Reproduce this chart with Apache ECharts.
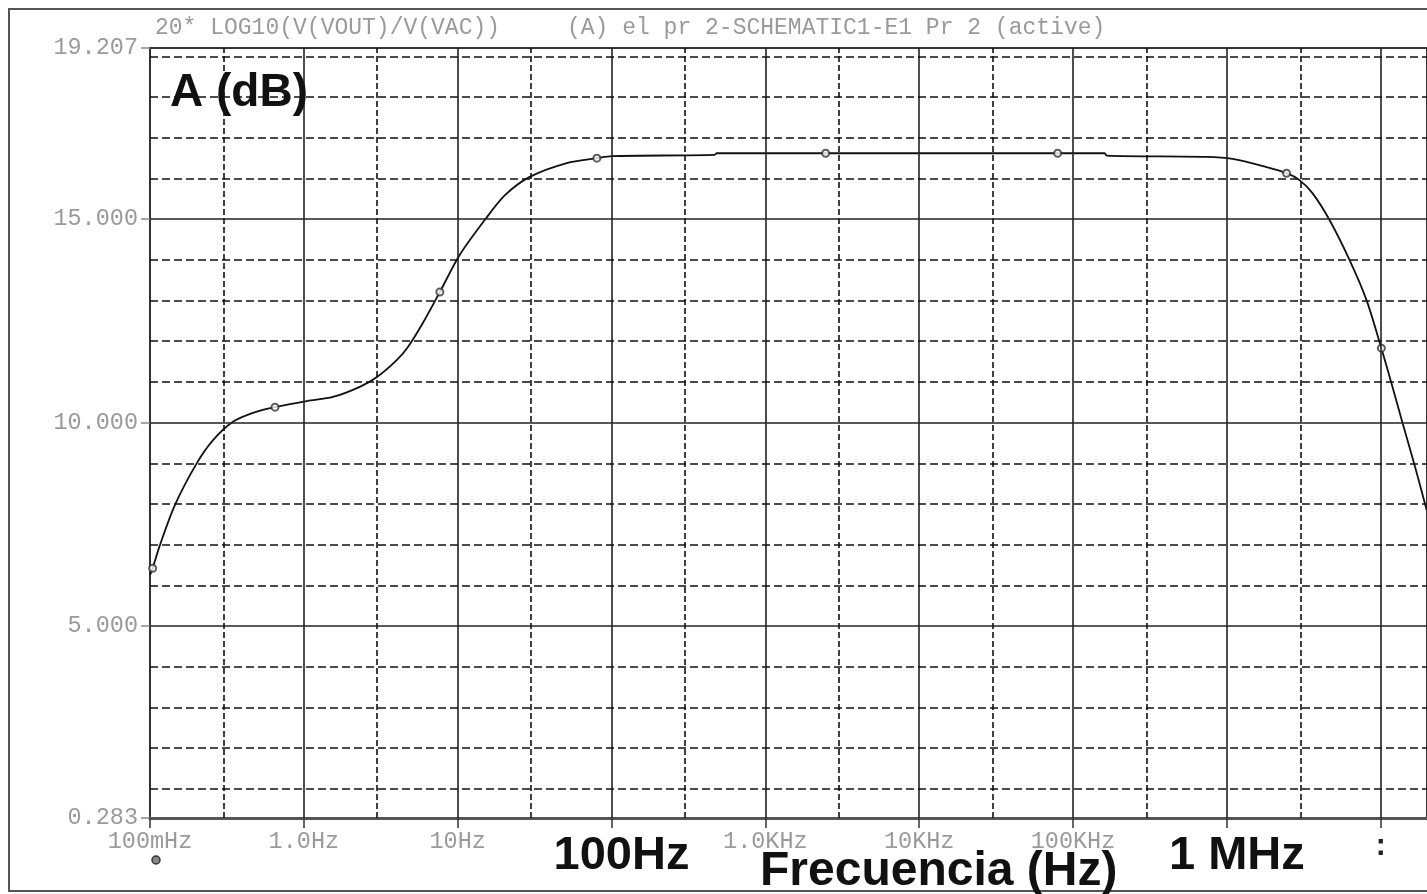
<!DOCTYPE html>
<html>
<head>
<meta charset="utf-8">
<script src="https://cdn.jsdelivr.net/npm/echarts@6/dist/echarts.min.js"></script>
<style>
  html, body { margin: 0; padding: 0; background: #fff; }
  #chart { width: 1427px; height: 894px; }
</style>
</head>
<body>
<div id="chart"></div>
<script>
// AC sweep of the amplifier: gain in dB against frequency on a log axis.
const traceTitle = '20* LOG10(V(VOUT)/V(VAC))';
const sectionTitle = '(A) el pr 2-SCHEMATIC1-E1 Pr 2 (active)';
const yName = 'A (dB)';
const xName = 'Frecuencia (Hz)';

// Trace samples
const freqHz = [0.1, 0.104, 0.116, 0.1454, 0.202, 0.257, 0.346, 0.467, 0.649, 1.047, 1.545, 2.31, 2.99,
  4.03, 4.75, 5.94, 7.66, 10.3, 15.0, 20.3, 29.4, 51.2, 80.3, 100.4, 469, 483, 2466, 79400, 160400,
  165300, 738000, 1089000, 1811000, 2444000, 2966000, 3600000, 4650000, 6270000, 8090000, 10100000,
  11750000, 13870000, 16600000, 19900000];
const gainDb = [6.25, 6.42, 6.99, 7.98, 9.01, 9.57, 10.02, 10.24, 10.38, 10.53, 10.63, 10.88, 11.12,
  11.54, 11.86, 12.45, 13.21, 14.12, 14.98, 15.59, 16.04, 16.38, 16.50, 16.55, 16.58, 16.62, 16.62, 16.62, 16.62,
  16.56, 16.53, 16.48, 16.28, 16.13, 15.96, 15.64, 14.98, 14.0, 13.01, 11.83,
  10.97, 9.99, 8.96, 7.85];
// Samples that carry the trace symbol
const markedFreqHz = [0.104, 0.649, 7.66, 80.3, 2466, 79400, 2444000, 10100000];

// Axis ticks and labels
const xDecades = [0.1, 1, 10, 100, 1e3, 1e4, 1e5, 1e6, 1e7];
const xTickLabels = ['100mHz', '1.0Hz', '10Hz', '100Hz', '1.0KHz', '10KHz', '100KHz', '1 MHz', ':'];
const xBigLabels = ['100Hz', '1 MHz'];
const xMidLines = [0.3, 3, 30, 300, 3e3, 3e4, 3e5, 3e6];
const xMin = 0.1, xMax = 2e7;

const yTicks = [0.283, 5, 10, 15, 19.207];
const yMajorLines = [5, 10, 15];
const yMinorLines = [1, 2, 3, 4, 6, 7, 8, 9, 11, 12, 13, 14, 16, 17, 18, 19];
const yMin = 0.283, yMax = 19.207;

const curve = freqHz.map((f, i) => [f, gainDb[i]]);
const marked = curve.filter(p => markedFreqHz.includes(p[0]));

const solidLine = { type: 'solid', color: '#222', width: 1.6 };
const dashH = { type: [8, 4], color: '#111', width: 1.6 };
const dashV = { type: [6, 3], color: '#111', width: 1.6 };

const gridLines = []
  .concat(xDecades.slice(1).map(v => ({ xAxis: v, lineStyle: solidLine })))
  .concat(xMidLines.map(v => ({ xAxis: v, lineStyle: dashV })))
  .concat(yMajorLines.map(v => ({ yAxis: v, lineStyle: solidLine })))
  .concat(yMinorLines.map(v => ({ yAxis: v, lineStyle: dashH })));

const monoGrey = { fontFamily: '"Liberation Mono", monospace', fontSize: 23.5, color: '#9a9a9a' };
const headGrey = { fontFamily: '"Liberation Mono", monospace', fontSize: 23, color: '#9a9a9a', fontWeight: 'normal' };
const bigFont = '"Liberation Sans", Arial, sans-serif';

const chart = echarts.init(document.getElementById('chart'), null, { renderer: 'canvas' });
chart.setOption({
  backgroundColor: '#fff',
  animation: false,
  title: [
    { text: traceTitle, left: 150, top: 11, textStyle: headGrey },
    { text: sectionTitle, left: 562, top: 11, textStyle: headGrey }
  ],
  grid: { left: 150, top: 48, width: 1278, height: 770, show: true, borderColor: '#333', borderWidth: 2, containLabel: false },
  xAxis: {
    type: 'log',
    logBase: 10,
    min: xMin,
    max: xMax,
    axisLine: { show: true, lineStyle: { color: '#555', width: 3 } },
    axisTick: { show: true, length: 10, lineStyle: { color: '#333', width: 1.5 } },
    splitLine: { show: false },
    minorTick: { show: false },
    axisLabel: {
      show: true,
      margin: 12,
      showMaxLabel: false,
      formatter: v => {
        const e = Math.log10(v);
        if (Math.abs(e - Math.round(e)) > 0.01) return '';
        const t = xTickLabels[Math.round(e) + 1];
        if (t === undefined) return '';
        if (xBigLabels.includes(t)) return '{big|' + t + '}';
        if (t === ':') return '{mark|:}';
        return '{small|' + t + '}';
      },
      rich: {
        small: monoGrey,
        big: { fontFamily: bigFont, fontSize: 47, fontWeight: 'bold', color: '#111', padding: [3, 0, 0, 20] },
        mark: { fontFamily: '"Liberation Mono", monospace', fontSize: 30, fontWeight: 'bold', color: '#222', padding: [2, 0, 0, 0] }
      }
    }
  },
  yAxis: {
    type: 'value',
    min: yMin,
    max: yMax,
    axisLine: { show: true, lineStyle: { color: '#333', width: 2 } },
    axisTick: { show: true, length: 9, customValues: yTicks, lineStyle: { color: '#888', width: 1.5 } },
    splitLine: { show: false },
    axisLabel: Object.assign({ margin: 12, customValues: yTicks, formatter: v => Number(v).toFixed(3) }, monoGrey)
  },
  series: [
    {
      type: 'line',
      name: 'grid',
      data: [],
      silent: true,
      z: 1,
      markLine: { silent: true, symbol: ['none', 'none'], label: { show: false }, data: gridLines, animation: false }
    },
    {
      type: 'line',
      name: traceTitle,
      data: curve,
      smooth: 0.3,
      showSymbol: false,
      symbol: 'none',
      lineStyle: { color: '#111', width: 1.8 },
      z: 3
    },
    {
      type: 'scatter',
      name: 'marks',
      data: marked,
      symbol: 'emptyCircle',
      symbolSize: 7,
      itemStyle: { color: '#333', borderColor: '#333', borderWidth: 1.5 },
      z: 4
    }
  ],
  graphic: [
    { type: 'rect', shape: { x: 9, y: 9, width: 1440, height: 882 }, style: { fill: 'none', stroke: '#555', lineWidth: 2 }, z: 0 },
    { type: 'circle', shape: { cx: 156, cy: 860, r: 4 }, style: { fill: '#888', stroke: '#333', lineWidth: 1.5 }, z: 10 },
    { type: 'text', left: 170, top: 70, style: { text: yName, fontFamily: bigFont, fontSize: 46, fontWeight: 'bold', fill: '#111' }, z: 10 },
    { type: 'text', left: 760, top: 848, style: { text: xName, fontFamily: bigFont, fontSize: 48, fontWeight: 'bold', fill: '#111' }, z: 10 }
  ]
});
</script>
</body>
</html>
